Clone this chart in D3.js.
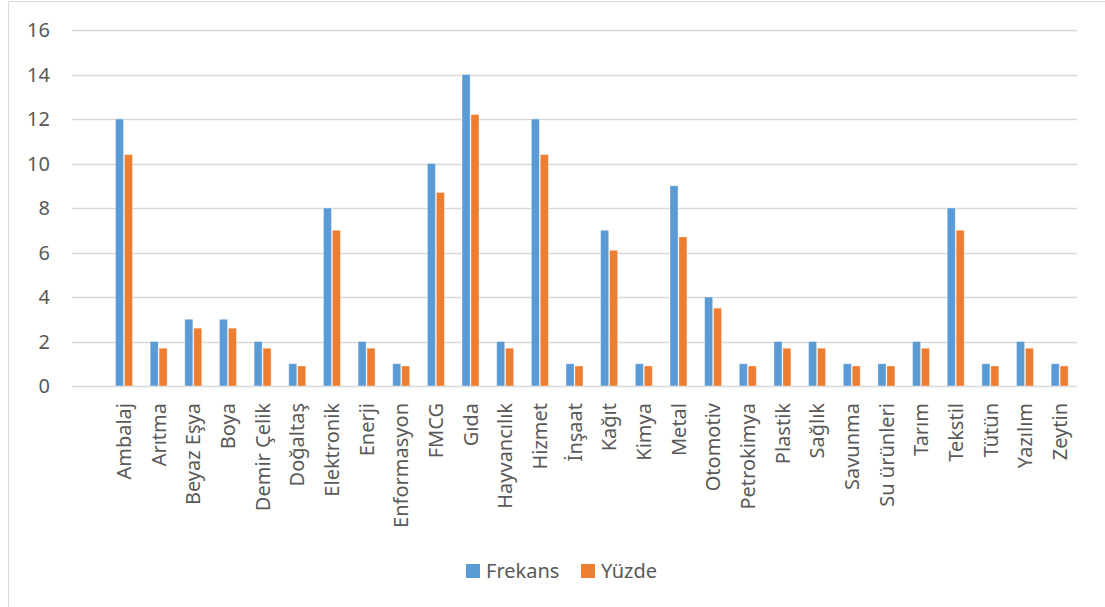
<!DOCTYPE html>
<html>
<head>
<meta charset="utf-8">
<script src="https://cdn.jsdelivr.net/npm/d3@7"></script>
<style>
  body { margin: 0; background: #fff; }
  text { font-family: "Noto Sans", "Open Sans", sans-serif; fill: #595959; }
</style>
</head>
<body>
<div id="chart"></div>
<script>
const categories = ["Ambalaj", "Arıtma", "Beyaz Eşya", "Boya", "Demir Çelik", "Doğaltaş", "Elektronik", "Enerji",
  "Enformasyon", "FMCG", "Gıda", "Hayvancılık", "Hizmet", "İnşaat", "Kağıt", "Kimya", "Metal", "Otomotiv",
  "Petrokimya", "Plastik", "Sağlık", "Savunma", "Su ürünleri", "Tarım", "Tekstil", "Tütün", "Yazılım", "Zeytin"]
const frekans = [12, 2, 3, 3, 2, 1, 8, 2, 1, 10, 14, 2, 12, 1, 7, 1, 9, 4, 1, 2, 2, 1, 1, 2, 8, 1, 2, 1]
const yuzde = [10.4, 1.7, 2.6, 2.6, 1.7, 0.9, 7.0, 1.7, 0.9, 8.7, 12.2, 1.7, 10.4, 0.9, 6.1, 0.9, 6.7, 3.5,
  0.9, 1.7, 1.7, 0.9, 0.9, 1.7, 7.0, 0.9, 1.7, 0.9]
const seriesNames = ["Frekans", "Yüzde"]
const yTicks = [0, 2, 4, 6, 8, 10, 12, 14, 16]

const colors = { "Frekans": "#5B9BD5", "Yüzde": "#ED7D31" }
const width = 1105, height = 607
const margin = { top: 30, right: 28, bottom: 221, left: 72 }

const svg = d3.select("#chart").append("svg")
    .attr("width", width)
    .attr("height", height)

// chart frame (only left and top edges are visible in the picture)
svg.append("rect")
    .attr("x", 8.5).attr("y", 1.5)
    .attr("width", 1120).attr("height", 640)
    .attr("fill", "none")
    .attr("stroke", "#D9D9D9")

// the source sheet has an empty first category
const x = d3.scaleBand()
    .domain(["", ...categories])
    .range([margin.left, width - margin.right])
    .paddingInner(0)

const y = d3.scaleLinear()
    .domain([0, 16])
    .range([height - margin.bottom, margin.top])

const groupW = x.bandwidth() * 0.49
const xs = d3.scaleBand()
    .domain(seriesNames)
    .range([0, groupW])
    .paddingInner(0.1)

// gridlines
svg.append("g")
    .selectAll("line")
    .data(yTicks)
    .join("line")
    .attr("x1", margin.left)
    .attr("x2", width - margin.right)
    .attr("y1", d => Math.round(y(d)) + 0.5)
    .attr("y2", d => Math.round(y(d)) + 0.5)
    .attr("stroke", "#D9D9D9")
    .attr("stroke-width", 1.3)

// y labels
svg.append("g")
    .selectAll("text")
    .data(yTicks)
    .join("text")
    .attr("x", 50)
    .attr("y", d => y(d))
    .attr("dy", "0.36em")
    .attr("text-anchor", "end")
    .attr("font-size", 20)
    .text(d => d)

// bars
const rows = categories.map((c, i) => ({ cat: c, vals: [frekans[i], yuzde[i]] }))
const groups = svg.append("g")
    .selectAll("g")
    .data(rows)
    .join("g")
    .attr("transform", d => `translate(${x(d.cat) + (x.bandwidth() - groupW) / 2},0)`)

groups.selectAll("rect")
    .data(d => d.vals.map((v, k) => ({ key: seriesNames[k], v })))
    .join("rect")
    .attr("x", d => xs(d.key))
    .attr("y", d => y(d.v))
    .attr("width", xs.bandwidth())
    .attr("height", d => y(0) - y(d.v))
    .attr("fill", d => colors[d.key])
    .attr("stroke", "#fff")
    .attr("stroke-opacity", 0.45)
    .attr("stroke-width", 0.8)

// category labels
svg.append("g")
    .selectAll("text")
    .data(categories)
    .join("text")
    .attr("transform", d => `translate(${x(d) + x.bandwidth() / 2},403) rotate(-90)`)
    .attr("dy", "0.36em")
    .attr("text-anchor", "end")
    .attr("font-size", 20)
    .text(d => d)

// legend
const legendX = [466, 581]
const legend = svg.append("g")
    .selectAll("g")
    .data(seriesNames)
    .join("g")
    .attr("transform", (d, i) => `translate(${legendX[i]},564)`)
legend.append("rect")
    .attr("width", 14).attr("height", 14)
    .attr("fill", d => colors[d])
legend.append("text")
    .attr("x", 20).attr("y", 7)
    .attr("dy", "0.36em")
    .attr("font-size", 20)
    .text(d => d)
</script>
</body>
</html>
